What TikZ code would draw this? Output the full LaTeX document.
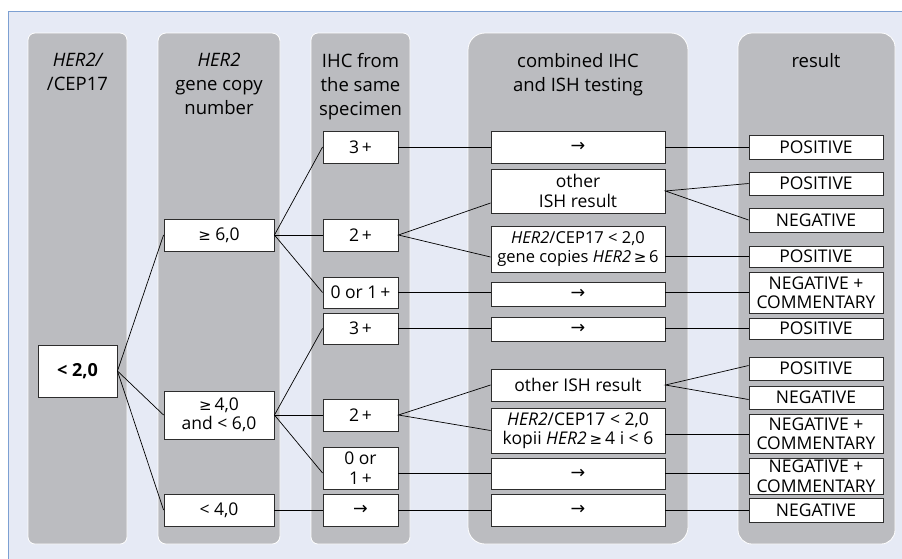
\documentclass[tikz,border=0pt]{standalone}
\usepackage{fontspec}
\setmainfont{Open Sans}
\newfontfamily\symf{DejaVu Sans}
\usetikzlibrary{calc}
\definecolor{bgblue}{RGB}{230,234,245}
\definecolor{framecol}{RGB}{125,160,210}
\definecolor{colgray}{RGB}{187,188,192}
\definecolor{boxline}{RGB}{45,45,45}
\newcommand{\mygeq}{{\symf\fontsize{15}{15}\selectfont ≥}}
\newcommand{\myarr}{{\symf →}}
\begin{document}
\begin{tikzpicture}[x=1pt,y=-1pt,
  colbox/.style={fill=colgray,draw=white,line width=0.8pt},
  hdr/.style={anchor=north,inner sep=0pt,align=center,font=\fontsize{18.5}{24}\selectfont},
  box/.style={draw=boxline,fill=white,line width=0.9pt,inner sep=0pt,align=center,font=\fontsize{17.5}{19.5}\selectfont},
  conn/.style={draw=black,line width=0.7pt}]
\useasboundingbox (0,0) rectangle (902,558);
\fill[bgblue] (8,11) rectangle (910,566);
\draw[framecol,line width=1pt] (8,566) -- (8,11) -- (910,11);
% columns
\draw[colbox,rounded corners=7pt] (28,33) rectangle (127,544);
\draw[colbox,rounded corners=8pt] (158,33) rectangle (280,544);
\draw[colbox,rounded corners=7pt] (311,33) rectangle (410,544);
\draw[colbox,rounded corners=17pt] (468,33) rectangle (688,544);
\draw[colbox,rounded corners=14pt] (738,33) rectangle (895,544);
% headers
\node[hdr] (h1) at (77.5,53) {\itshape HER2/\\/CEP17};
\node[hdr] (h2) at (219,53) {\itshape HER2\\gene copy\\number};
\node[hdr] (h3) at (360.5,53) {IHC from\\the same\\specimen};
\node[hdr] (h4) at (578,53) {combined IHC\\and ISH testing};
\node[hdr] (h5) at (816,53) {result};
% column 1
\node[box,minimum width=79,minimum height=52,font=\fontsize{18}{20}\selectfont\bfseries] (r) at (77.5,371) {< 2,0};
% column 2
\node[box,minimum width=110,minimum height=32] (g6) at (219,235) {\mygeq\ 6,0};
\node[box,minimum width=110,minimum height=48] (g4) at (219,415) {\mygeq\,4,0\\and < 6,0};
\node[box,minimum width=110,minimum height=32] (l4) at (219,510) {< 4,0};
% column 3
\node[box,minimum width=75,minimum height=32] (a3) at (360.5,147) {3\,+};
\node[box,minimum width=75,minimum height=32] (a2) at (360.5,235) {2\,+};
\node[box,minimum width=75,minimum height=31] (a01) at (360.5,292.5) {0 or 1\,+};
\node[box,minimum width=75,minimum height=31] (b3) at (360.5,328.5) {3\,+};
\node[box,minimum width=75,minimum height=32] (b2) at (360.5,415) {2\,+};
\node[box,minimum width=75,minimum height=42] (b01) at (360.5,468) {0 or\\1\,+};
\node[box,minimum width=75,minimum height=32] (c0) at (360.5,510) {\myarr};
% column 4
\node[box,minimum width=174,minimum height=32] (d1) at (578,147) {\myarr};
\node[box,minimum width=174,minimum height=44] (d2) at (578,191) {other\\ISH result};
\node[box,minimum width=174,minimum height=46,font=\fontsize{16.5}{19.5}\selectfont] (d3) at (578,249) {\textit{HER2}/CEP17 < 2,0\\gene copies \textit{HER2}\,\mygeq\,6};
\node[box,minimum width=174,minimum height=24] (d4) at (578,294) {\myarr};
\node[box,minimum width=174,minimum height=24] (d5) at (578,329) {\myarr};
\node[box,minimum width=174,minimum height=32] (d6) at (578,385) {other ISH result};
\node[box,minimum width=174,minimum height=45] (d7) at (578,430.5) {\textit{HER2}/CEP17 < 2,0\\kopii \textit{HER2}\,\mygeq\,4 i < 6};
\node[box,minimum width=174,minimum height=31] (d8) at (578,473.5) {\myarr};
\node[box,minimum width=174,minimum height=32] (d9) at (578,510) {\myarr};
% column 5
\node[box,minimum width=134,minimum height=24] (e1) at (816,147) {POSITIVE};
\node[box,minimum width=134,minimum height=23] (e2) at (816,183.5) {POSITIVE};
\node[box,minimum width=134,minimum height=24] (e3) at (816,220) {NEGATIVE};
\node[box,minimum width=134,minimum height=21] (e4) at (816,256.5) {POSITIVE};
\node[box,minimum width=134,minimum height=41] (e5) at (816,292.5) {NEGATIVE +\\COMMENTARY};
\node[box,minimum width=134,minimum height=21] (e6) at (816,328.5) {POSITIVE};
\node[box,minimum width=134,minimum height=23] (e7) at (816,368.5) {POSITIVE};
\node[box,minimum width=134,minimum height=23] (e8) at (816,397.5) {NEGATIVE};
\node[box,minimum width=134,minimum height=39] (e9) at (816,433.5) {NEGATIVE +\\COMMENTARY};
\node[box,minimum width=134,minimum height=36] (e10) at (816,476) {NEGATIVE +\\COMMENTARY};
\node[box,minimum width=134,minimum height=24] (e11) at (816,510) {NEGATIVE};
% connectors
\draw[conn] (g6.west) -- (r.east) -- (g4.west);
\draw[conn] (r.east) -- (l4.west);
\draw[conn] (a3.west) -- (g6.east) -- (a01.west);
\draw[conn] (g6.east) -- (a2.west);
\draw[conn] (b3.west) -- (g4.east) -- ([yshift=-5pt]b01.west);
\draw[conn] (g4.east) -- (b2.west);
\draw[conn] (l4.east) -- (c0.west);
\draw[conn] (a3.east) -- (d1.west);
\draw[conn] (d1.east) -- (e1.west);
\draw[conn] ([yshift=-12pt]d2.west) -- (a2.east) -- ([yshift=-8pt]d3.west);
\draw[conn] (e2.west) -- (d2.east) -- (e3.west);
\draw[conn] (d3.east |- e4.west) -- (e4.west);
\draw[conn] (a01.east) -- (a01.east -| d4.west);
\draw[conn] (d4.east |- e5.west) -- (e5.west);
\draw[conn] (b3.east) -- (b3.east -| d5.west);
\draw[conn] (d5.east |- e6.west) -- (e6.west);
\draw[conn] (d6.west) -- (b2.east) -- (d7.west);
\draw[conn] ([yshift=3pt]e7.west) -- (d6.east) -- ([yshift=-2pt]e8.west);
\draw[conn] ([yshift=-4pt]d7.east) -- ([yshift=-4pt]d7.east -| e9.west);
\draw[conn] (d8.west -| b01.east) -- (d8.west);
\draw[conn] (d8.east) -- (d8.east -| e10.west);
\draw[conn] (c0.east) -- (d9.west);
\draw[conn] (d9.east) -- (e11.west);
\end{tikzpicture}
\end{document}
